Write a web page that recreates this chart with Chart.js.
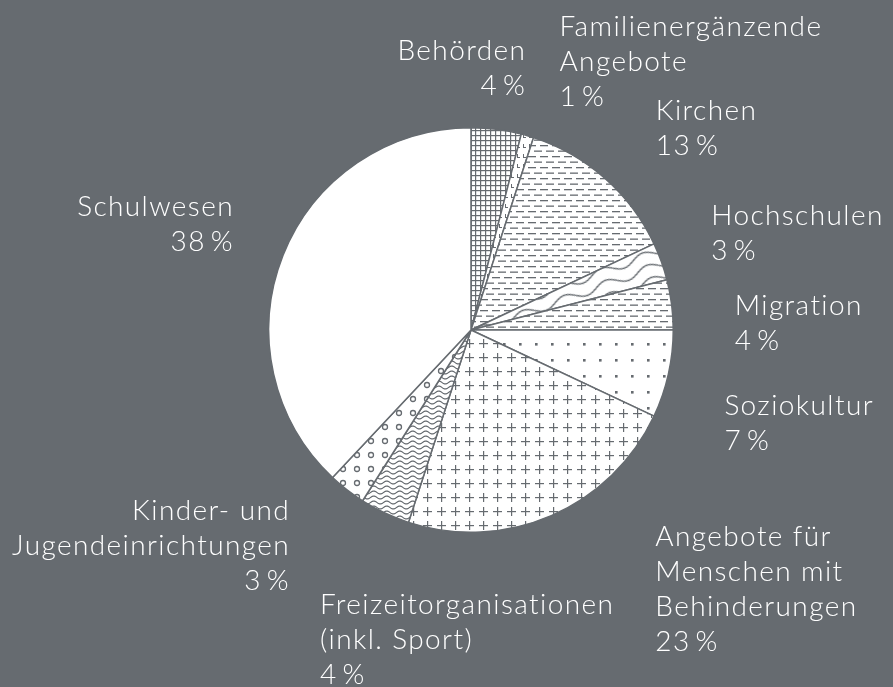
<!DOCTYPE html>
<html>
<head>
<meta charset="utf-8">
<script src="https://cdn.jsdelivr.net/npm/chart.js@4.4.1/dist/chart.umd.min.js"></script>
<style>
    html, body { margin: 0; padding: 0; background: #666b70; }
    #wrap { width: 893px; height: 687px; position: relative; }
</style>
</head>
<body>
<div id="wrap"><canvas id="pie"></canvas></div>
<script>
// Werte (Anteile in %), im Uhrzeigersinn ab 12 Uhr
const categories = ['Behörden', 'Familienergänzende Angebote', 'Kirchen', 'Hochschulen', 'Migration',
    'Soziokultur', 'Angebote für Menschen mit Behinderungen', 'Freizeitorganisationen (inkl. Sport)',
    'Kinder- und Jugendeinrichtungen', 'Schulwesen'];
const shares = [4, 1, 13, 3, 4, 7, 23, 4, 3, 38];
const labelLines = [
    ['Behörden'],
    ['Familienergänzende', 'Angebote'],
    ['Kirchen'],
    ['Hochschulen'],
    ['Migration'],
    ['Soziokultur'],
    ['Angebote für', 'Menschen mit', 'Behinderungen'],
    ['Freizeitorganisationen', '(inkl. Sport)'],
    ['Kinder- und', 'Jugendeinrichtungen'],
    ['Schulwesen']
];

// Beschriftung: Versatz vom Randpunkt der Segmentmitte, Ausrichtung
const labelOffsets = [[30, -69], [32, -100], [51, -58], [50, -36], [63, 10],
    [56, 41], [104, 30], [-65, 101], [-57, 30], [-49, -40]];
const labelAlign = ['right', 'left', 'left', 'left', 'left', 'left', 'left', 'left', 'right', 'right'];

const ink = '#666b70';
const canvas = document.getElementById('pie');
const ctx = canvas.getContext('2d');

function tile(w, h, draw) {
    const c = document.createElement('canvas');
    c.width = w; c.height = h;
    const g = c.getContext('2d');
    g.fillStyle = '#fff';
    g.fillRect(0, 0, w, h);
    g.fillStyle = ink;
    g.strokeStyle = ink;
    g.lineWidth = 1;
    draw(g, w, h);
    return ctx.createPattern(c, 'repeat');
}

function wave(g, w, h, amp, lw) {
    g.lineWidth = lw;
    g.beginPath();
    for (let x = 0; x <= w; x += 0.5) {
        const y = h / 2 + amp * Math.sin(2 * Math.PI * x / w);
        if (x === 0) g.moveTo(x, y); else g.lineTo(x, y);
    }
    g.stroke();
}

const grid = tile(5, 5, g => { g.fillRect(0, 0, 5, 1.2); g.fillRect(0, 0, 1.2, 5); });
const ticks = tile(6, 10, g => { g.fillRect(1, 4, 1, 4); g.fillRect(1, 7, 3, 1); });
const dashes = tile(12, 11, g => {
    g.fillRect(0, 2, 8, 1.3);
    g.fillRect(6, 7.5, 6, 1.3); g.fillRect(0, 7.5, 2, 1.3);
});
const bigWaves = tile(44, 13, (g, w, h) => wave(g, w, h, 4, 1.4));
bigWaves.setTransform(new DOMMatrix().rotate(-20));
const dots = tile(16, 16, g => { g.fillRect(7, 7, 2.6, 2.6); });
const plus = tile(14, 14, g => { g.fillRect(3, 7, 9, 1.2); g.fillRect(7, 3, 1.2, 9); });
const smallWaves = tile(13, 5, (g, w, h) => wave(g, w, h, 1.4, 1.2));
const rings = tile(14, 14, g => {
    g.lineWidth = 1.3;
    g.beginPath(); g.arc(7, 7, 2.5, 0, Math.PI * 2); g.stroke();
});

const fills = [grid, ticks, dashes, bigWaves, dashes, dots, plus, smallWaves, rings, '#ffffff'];

const labelPlugin = {
    id: 'outerLabels',
    afterDraw(chart) {
        const c = chart.ctx;
        const arcs = chart.getDatasetMeta(0).data;
        c.save();
        c.font = '300 28px Lato';
        c.letterSpacing = '1.4px';
        c.fillStyle = '#ffffff';
        c.textBaseline = 'alphabetic';
        arcs.forEach((arc, i) => {
            const p = arc.getProps(['x', 'y', 'startAngle', 'endAngle', 'outerRadius'], true);
            const mid = (p.startAngle + p.endAngle) / 2;
            const ex = p.x + Math.cos(mid) * p.outerRadius;
            const ey = p.y + Math.sin(mid) * p.outerRadius;
            const x = ex + labelOffsets[i][0];
            const y = ey + labelOffsets[i][1];
            c.textAlign = labelAlign[i];
            const lines = labelLines[i].concat([shares[i] + '\u2009%']);
            lines.forEach((t, k) => c.fillText(t, x, y + k * 35));
        });
        c.restore();
    }
};

new Chart(canvas, {
    type: 'pie',
    data: {
        labels: categories,
        datasets: [{
            data: shares,
            backgroundColor: fills,
            borderColor: ink,
            borderWidth: 1.5
        }]
    },
    options: {
        responsive: true,
        maintainAspectRatio: false,
        animation: false,
        layout: { padding: { left: 268, right: 219, top: 127, bottom: 154 } },
        plugins: {
            legend: { display: false },
            tooltip: { enabled: false }
        }
    },
    plugins: [labelPlugin]
});
</script>
</body>
</html>
